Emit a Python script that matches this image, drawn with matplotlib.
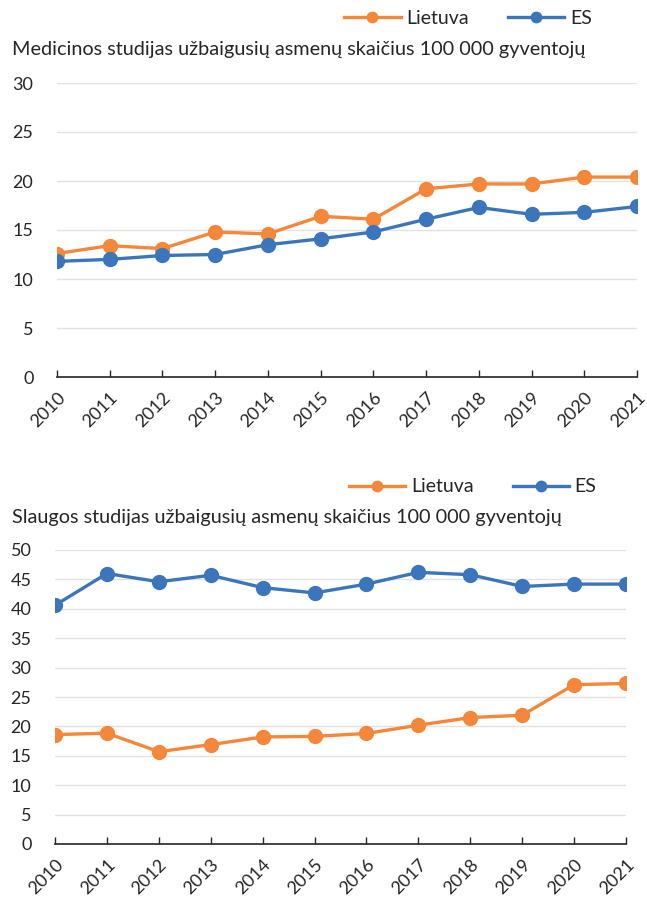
import matplotlib
matplotlib.use("Agg")
import matplotlib.pyplot as plt

plt.rcParams['font.family'] = ['Lato', 'DejaVu Sans']

metai = [2010, 2011, 2012, 2013, 2014, 2015, 2016, 2017, 2018, 2019, 2020, 2021]

# medicinos studijos
med_lt = [12.6, 13.4, 13.1, 14.8, 14.6, 16.4, 16.1, 19.2, 19.7, 19.7, 20.4, 20.4]
med_es = [11.8, 12.0, 12.4, 12.5, 13.5, 14.1, 14.8, 16.1, 17.3, 16.6, 16.8, 17.4]

# slaugos studijos
slg_lt = [18.6, 18.85, 15.7, 16.9, 18.2, 18.3, 18.8, 20.2, 21.5, 21.9, 27.1, 27.3]
slg_es = [40.6, 46.0, 44.6, 45.7, 43.6, 42.7, 44.2, 46.2, 45.8, 43.8, 44.2, 44.2]

pavad1 = "Medicinos studijas užbaigusių asmenų skaičius 100 000 gyventojų"
pavad2 = "Slaugos studijas užbaigusių asmenų skaičius 100 000 gyventojų"

oranzine = "#F5873A"
melyna = "#3B76BD"
tekstas = "#262626"

fig = plt.figure(figsize=(6.47, 8.99), dpi=100)


def grafikas(ax, lt, es, ymax, pavad, title_y, leg_y, leg_x):
    l1, = ax.plot(metai, lt, color=oranzine, lw=2.4, marker='o', ms=10, label="Lietuva", zorder=3)
    l2, = ax.plot(metai, es, color=melyna, lw=2.4, marker='o', ms=10, label="ES", zorder=3)
    ax.set_xlim(metai[0], metai[-1])
    ax.set_ylim(0, ymax)
    ax.set_yticks(range(0, ymax + 1, 5))
    ax.set_xticks(metai)
    ax.set_xticklabels([str(m) for m in metai], rotation=45, ha='right', rotation_mode='anchor')
    ax.tick_params(axis='x', direction='in', length=5, width=1, colors=tekstas, labelsize=13, pad=9)
    ax.tick_params(axis='y', length=0, labelsize=13, colors=tekstas, pad=17)
    ax.grid(axis='y', color='#E2E2E2', lw=1)
    ax.set_axisbelow(True)
    for s in ['top', 'right', 'left']:
        ax.spines[s].set_visible(False)
    ax.spines['bottom'].set_color(tekstas)
    ax.spines['bottom'].set_linewidth(1.2)
    ax.spines['bottom'].set_zorder(4)
    fig.text(0.018, title_y, pavad, fontsize=14.3, color=tekstas, va='center')
    leg = fig.legend(handles=[l1, l2], loc='center left', bbox_to_anchor=(leg_x, leg_y), ncol=2,
                     frameon=False, fontsize=14, handlelength=2.9, handletextpad=0.3,
                     columnspacing=2.0, markerscale=0.75)
    for t in leg.get_texts():
        t.set_color(tekstas)


ax1 = fig.add_axes([57 / 647, 1 - 377 / 899, 580 / 647, 294 / 899])
grafikas(ax1, med_lt, med_es, 30, pavad1, 1 - 50 / 899, 1 - 18 / 899, 0.505)

ax2 = fig.add_axes([55 / 647, 1 - 844 / 899, 571 / 647, 294 / 899])
grafikas(ax2, slg_lt, slg_es, 50, pavad2, 1 - 518 / 899, 1 - 487 / 899, 0.512)

plt.savefig("out.png", dpi=100)
